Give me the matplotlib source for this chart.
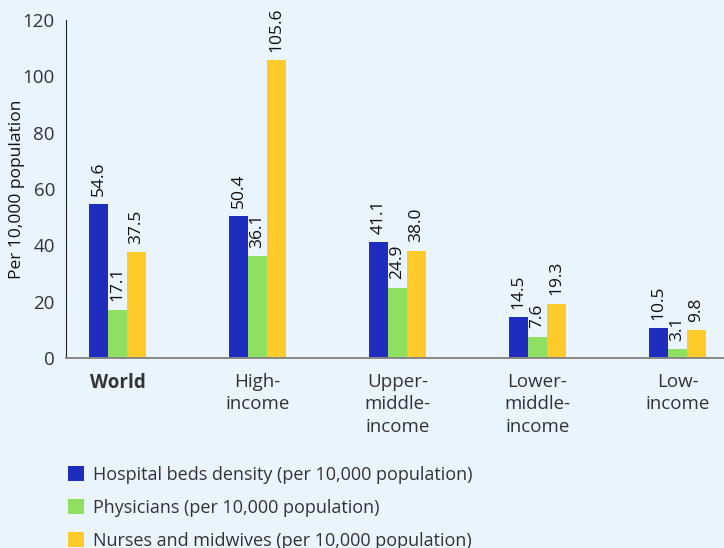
import matplotlib.pyplot as plt
import numpy as np

# Data
grupos = ["World", "High-\nincome", "Upper-\nmiddle-\nincome", "Lower-\nmiddle-\nincome", "Low-\nincome"]
camas = [54.6, 50.4, 41.1, 14.5, 10.5]
medicos = [17.1, 36.1, 24.9, 7.6, 3.1]
enfermeiros = [37.5, 105.6, 38.0, 19.3, 9.8]
series_nomes = ["Hospital beds density (per 10,000 population)",
                "Physicians (per 10,000 population)",
                "Nurses and midwives (per 10,000 population)"]

cores = ["#1F2DBE", "#8FE060", "#FFCB2B"]
fundo = "#EAF4FD"
texto = "#333333"

plt.rcParams["font.family"] = ["Open Sans", "Noto Sans", "DejaVu Sans"]

fig = plt.figure(figsize=(7.24, 5.48), dpi=100, facecolor=fundo)
ax = fig.add_axes([0.0912, 0.3467, 0.9088, 0.617])
ax.set_facecolor(fundo)

x = np.arange(len(grupos))
largura = 0.136
for k, (valores, cor, nome) in enumerate(zip([camas, medicos, enfermeiros], cores, series_nomes)):
    pos = x + (k - 1) * largura
    ax.bar(pos, valores, largura, color=cor, label=nome)
    for xi, v in zip(pos, valores):
        ax.text(xi, v + 3.0, f"{v:.1f}", rotation=90, ha="center", va="bottom",
                fontsize=12.5, color="#111111")

ax.set_xlim(-0.368, 4.332)
ax.set_ylim(0, 120)
ax.set_yticks([0, 20, 40, 60, 80, 100, 120])
ax.set_xticks(x)
ax.set_xticklabels(grupos, fontsize=13.5, color=texto, linespacing=1.3)
ax.tick_params(axis="y", length=0, labelsize=13.5, labelcolor=texto, pad=8)
ax.tick_params(axis="x", length=0, pad=11)
ax.set_ylabel("Per 10,000 population", fontsize=12.5, color="#111111")
ax.yaxis.set_label_coords(-0.063, 0.5)

for lado in ["top", "right"]:
    ax.spines[lado].set_visible(False)
ax.spines["left"].set_color("#222222")
ax.spines["bottom"].set_color("#888888")
ax.spines["bottom"].set_linewidth(1.4)

fig.legend(loc="upper left", bbox_to_anchor=(0.084, 0.163), frameon=False,
           fontsize=13, handlelength=0.89, handleheight=0.89, labelspacing=0.82,
           handletextpad=0.5, labelcolor=texto, borderaxespad=0)

# "World" em negrito
fig.canvas.draw()
ax.xaxis.get_major_ticks()[0].label1.set_fontweight("bold")

fig.savefig("out.png", dpi=100, facecolor=fundo)
